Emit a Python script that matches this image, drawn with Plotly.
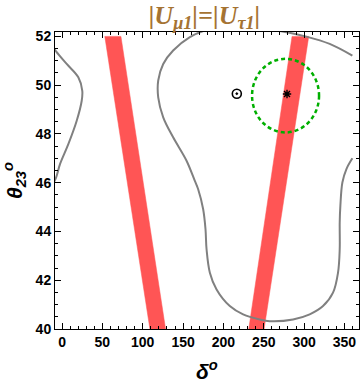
import plotly.graph_objects as go

# ---- data ----
# left grey contour branch (delta, theta23)
left_curve_delta = [-12, -7.4, 5.8, 20.2, 25.1, 24.4, 18.2, 7.8, -2.5, -7.4, -12]
left_curve_theta = [51.6, 51.39, 50.87, 50.32, 49.77, 49.36, 48.54, 47.58, 46.76, 46.21, 45.9]

# big grey contour branch
big_curve_delta = [359.8, 331.7, 302.8, 269.8, 251.2, 230.0, 207.9, 179.1, 158.4, 137.7, 125.4,
                   119.2, 119.2, 125.4, 137.7, 154.3, 164.6, 168.7, 174.9, 177.8, 179.1,
                   183.2, 191.5, 207.9, 224.4, 245.0, 257.4, 286.3, 306.9, 323.4, 335.8,
                   342.0, 344.1, 344.1, 344.9, 347.4, 352.4, 359.8]
big_curve_theta = [51.21, 51.69, 51.99, 52.22, 52.29, 52.36, 52.40, 52.26, 51.97, 51.42, 50.87,
                   50.19, 49.50, 48.68, 47.86, 46.90, 46.07, 45.73, 44.91, 44.09, 43.27,
                   42.31, 41.62, 40.94, 40.60, 40.39, 40.32, 40.39, 40.60, 40.94, 41.49,
                   42.31, 43.27, 44.36, 45.05, 46.01, 46.56, 47.00]

# red bands (polygon corners)
band1_delta = [53, 73, 128.3, 108.9, 53]
band1_theta = [52, 52, 40, 40, 52]
band2_delta = [285.0, 305.7, 250.4, 231.4, 285.0]
band2_theta = [52, 52, 40, 40, 52]

# points
star_delta, star_theta = [278.8], [49.64]
odot_delta, odot_theta = [216.6], [49.65]

# green dashed ellipse (center, radii)
ell_center = (277.0, 49.57)
ell_radius = (41.5, 1.51)

x_ticks = [0, 50, 100, 150, 200, 250, 300, 350]
y_ticks = [40, 42, 44, 46, 48, 50, 52]

red = "rgb(255,85,85)"
grey = "rgb(128,128,128)"

fig = go.Figure()
for bx, by in [(band1_delta, band1_theta), (band2_delta, band2_theta)]:
    fig.add_trace(go.Scatter(x=bx, y=by, mode="lines", fill="toself",
                             fillcolor=red, line=dict(color=red, width=0.5),
                             hoverinfo="skip", showlegend=False))
fig.add_trace(go.Scatter(x=left_curve_delta, y=left_curve_theta, mode="lines",
                         line=dict(color=grey, width=2, shape="spline"), showlegend=False))
fig.add_trace(go.Scatter(x=big_curve_delta, y=big_curve_theta, mode="lines",
                         line=dict(color=grey, width=2, shape="spline"), showlegend=False))
fig.add_trace(go.Scatter(x=odot_delta, y=odot_theta, mode="markers",
                         marker=dict(symbol="circle-open-dot", size=9, color="black",
                                     line=dict(color="black", width=1.6)),
                         showlegend=False, cliponaxis=False))
fig.add_trace(go.Scatter(x=star_delta, y=star_theta, mode="markers",
                         marker=dict(symbol="asterisk-open", size=7, color="black",
                                     line=dict(color="black", width=1.4)),
                         showlegend=False))

fig.add_shape(type="circle", xref="x", yref="y",
              x0=ell_center[0] - ell_radius[0], x1=ell_center[0] + ell_radius[0],
              y0=ell_center[1] - ell_radius[1], y1=ell_center[1] + ell_radius[1],
              line=dict(color="rgb(0,175,0)", width=2.5, dash="4px,3px"))

tickfont = dict(family="Liberation Sans", size=14, color="black", weight="bold")
axis_common = dict(showgrid=False, zeroline=False, showline=True, linecolor="black",
                   linewidth=1, mirror="allticks", ticks="inside", ticklen=6,
                   tickcolor="black", tickwidth=1, tickfont=tickfont, automargin=False)

fig.update_xaxes(range=[-8.7, 368], tickvals=x_ticks,
                 minor=dict(dtick=10, ticks="inside", ticklen=3, tickcolor="black"),
                 **axis_common)
fig.update_yaxes(range=[40, 52.18], tickvals=y_ticks,
                 minor=dict(dtick=0.5, ticks="inside", ticklen=3, tickcolor="black"),
                 title=dict(text="θ<sub>23</sub><sup>o</sup>", standoff=8,
                            font=dict(family="Liberation Sans", size=21, color="black",
                                      weight="bold", style="italic")),
                 **axis_common)

fig.add_annotation(text="δ<sup>o</sup>", xref="paper", yref="paper", x=0.5, y=-0.138,
                   xanchor="center", yanchor="middle", showarrow=False,
                   font=dict(family="Liberation Sans", size=21, color="black",
                             weight="bold", style="italic"))

fig.update_layout(
    width=360, height=382,
    margin=dict(l=55, r=1, t=31.5, b=52.5),
    paper_bgcolor="white", plot_bgcolor="white",
    title=dict(text="|U<sub>μ1</sub>|=|U<sub>τ1</sub>|", x=0.568, xanchor="center",
               y=0.962, yanchor="middle",
               font=dict(family="Liberation Serif", size=26, color="rgb(165,115,50)",
                         weight="bold", style="italic")),
)

fig.write_html("out.html", config={"displayModeBar": False},
               post_script="document.body.style.margin='0';document.body.style.overflow='hidden';")
